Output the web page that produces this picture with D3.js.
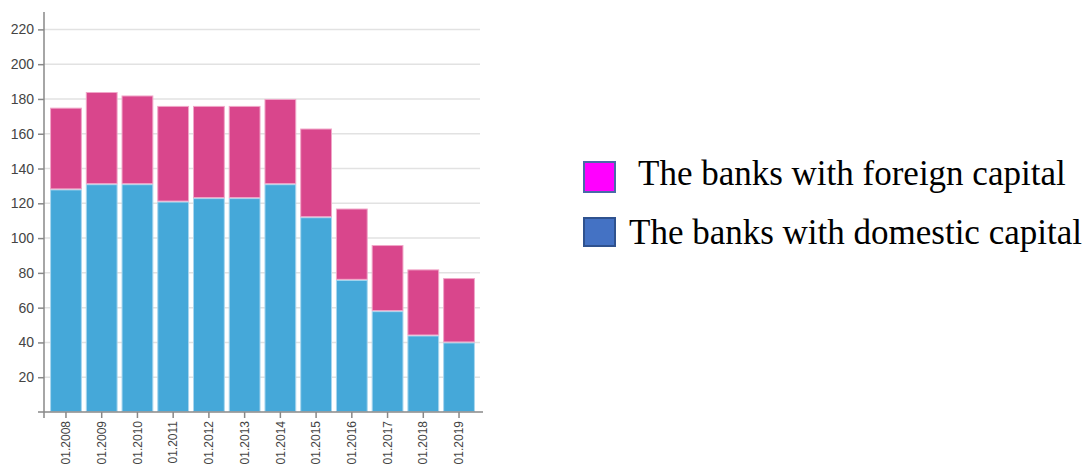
<!DOCTYPE html>
<html><head><meta charset="utf-8">
<script src="https://cdn.jsdelivr.net/npm/d3@7/dist/d3.min.js"></script>
<style>body{margin:0;background:#fff}svg{display:block}</style>
</head><body>
<svg id="c" width="1083" height="467"></svg>
<script>
const categories = ["01.2008","01.2009","01.2010","01.2011","01.2012","01.2013","01.2014","01.2015","01.2016","01.2017","01.2018","01.2019"];
const domestic = [128,131,131,121,123,123,131,112,76,58,44,40];
const foreign = [47,53,51,55,53,53,49,51,41,38,38,37];
const yTicks = [20,40,60,80,100,120,140,160,180,200,220];
const seriesNames = ["The banks with foreign capital","The banks with domestic capital"];

const svg = d3.select("#c");
const x = d3.scaleBand().domain(categories).range([44,481]).paddingInner(0.11).paddingOuter(0.17);
const y = d3.scaleLinear().domain([0,230]).range([412,12]);

// grid
svg.append("g").selectAll("line").data(yTicks).join("line")
  .attr("x1",44).attr("x2",480).attr("y1",d=>y(d)).attr("y2",d=>y(d))
  .attr("stroke","#e2e2e2").attr("stroke-width",1.5);

const data = categories.map((c,i)=>({c, domestic:domestic[i], foreign:foreign[i]}));
const stack = d3.stack().keys(["domestic","foreign"])(data);
const colors = {domestic:"#45a8d9", foreign:"#d9468c"};
const strokes = {domestic:"#a9d6ee", foreign:"#f0a6c8"};
svg.append("g").selectAll("g").data(stack).join("g")
  .attr("fill",s=>colors[s.key]).attr("stroke",s=>strokes[s.key]).attr("stroke-width",1)
  .selectAll("rect").data(s=>s).join("rect")
  .attr("x",d=>x(d.data.c)+0.5).attr("width",x.bandwidth()-1)
  .attr("y",d=>y(d[1])+0.5).attr("height",d=>y(d[0])-y(d[1])-1);

// x axis
const xa = svg.append("g").attr("transform","translate(0,412)")
  .call(d3.axisBottom(x).tickSize(6).tickSizeOuter(0));
xa.select(".domain").attr("stroke","#888").attr("stroke-width",1.5).attr("d",`M38,0H483`);
xa.selectAll(".tick line").attr("stroke","#888").attr("stroke-width",1.5);
xa.selectAll("text").attr("fill","#444").style("font-family","Liberation Sans, Arial, sans-serif").style("font-size","12px")
  .attr("transform","rotate(-90)").attr("text-anchor","end").attr("x",-9).attr("y",0).attr("dy","0.35em");

// y axis
const ya = svg.append("g").attr("transform","translate(44,0)")
  .call(d3.axisLeft(y).tickValues(yTicks).tickSize(6).tickSizeOuter(0).tickPadding(4));
ya.select(".domain").attr("stroke","#888").attr("stroke-width",1.5).attr("d",`M0,${y.range()[1]}V${y(0)+6}`);
ya.selectAll(".tick line").attr("stroke","#888").attr("stroke-width",1.5);
ya.selectAll("text").attr("fill","#444").style("font-family","Liberation Sans, Arial, sans-serif").style("font-size","14px");

// legend
const leg = [{name:seriesNames[0], fill:"#ff00ff", stroke:"#4a6aa8", y:162, h:30, tx:638, ty:185},
             {name:seriesNames[1], fill:"#4472c4", stroke:"#2f528f", y:218, h:28, tx:629, ty:244}];
const lg = svg.append("g");
lg.selectAll("rect").data(leg).join("rect")
  .attr("x",584).attr("y",d=>d.y).attr("width",31).attr("height",d=>d.h)
  .attr("fill",d=>d.fill).attr("stroke",d=>d.stroke).attr("stroke-width",2);
lg.selectAll("text").data(leg).join("text")
  .attr("x",d=>d.tx).attr("y",d=>d.ty).text(d=>d.name)
  .style("font-family","Liberation Serif, Times New Roman, serif").style("font-size","35px").attr("fill","#000");
</script>
</body></html>
